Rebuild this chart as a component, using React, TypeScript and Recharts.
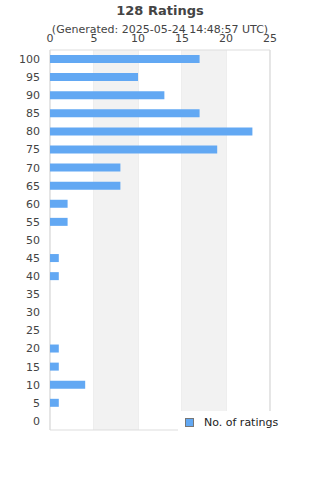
import React from "react";
import { BarChart, Bar, XAxis, YAxis, CartesianGrid, Legend, ReferenceArea } from "recharts";

// ratings buckets, top to bottom as drawn
const buckets = ["100", "95", "90", "85", "80", "75", "70", "65", "60", "55", "50", "45", "40", "35", "30", "25", "20", "15", "10", "5", "0"];
const counts = [17, 10, 13, 17, 23, 19, 8, 8, 2, 2, 0, 1, 1, 0, 0, 0, 1, 1, 4, 1, 0];
const xTicks = [0, 5, 10, 15, 20, 25];

const dados = buckets.map((b, i) => ({ bucket: b, ratings: counts[i] }));

const FONT = "'DejaVu Sans', sans-serif";
const TXT = "#444";

function LegendBox() {
  return (
    <div style={{ background: "#fff", width: 142, height: 22, display: "flex", alignItems: "center", fontFamily: FONT, fontSize: 11, color: "#222" }}>
      <span style={{ display: "inline-block", width: 7, height: 7, background: "#62a8f3", border: "1px solid #777", marginLeft: 7, marginRight: 10 }} />
      No. of ratings
    </div>
  );
}

export default function App() {
  return (
    <div style={{ position: "absolute", left: 0, top: 0, width: 320, height: 480, background: "#fff", fontFamily: FONT }}>
      <div style={{ position: "absolute", top: 3, width: 320, textAlign: "center", fontWeight: "bold", fontSize: 13, color: TXT }}>
        128 Ratings
      </div>
      <div style={{ position: "absolute", top: 23, width: 320, textAlign: "center", fontSize: 11, color: TXT }}>
        (Generated: 2025-05-24 14:48:57 UTC)
      </div>
      <BarChart
        width={320}
        height={480}
        layout="vertical"
        data={dados}
        margin={{ top: 20, right: 50, left: 0, bottom: 28 }}
        barCategoryGap={0}
      >
        <ReferenceArea x1={5} x2={10} fill="#f2f2f2" fillOpacity={1} stroke="none" ifOverflow="visible" />
        <ReferenceArea x1={15} x2={20} fill="#f2f2f2" fillOpacity={1} stroke="none" ifOverflow="visible" />
        <CartesianGrid horizontal={false} stroke="#dddddd" />
        <ReferenceArea x1={0} x2={25} fill="none" fillOpacity={0} stroke="#dddddd" ifOverflow="visible" />
        <XAxis
          type="number"
          orientation="top"
          domain={[0, 25]}
          ticks={xTicks}
          height={30}
          axisLine={false}
          tickLine={false}
          tick={{ fill: TXT, fontSize: 11, fontFamily: FONT }}
          tickMargin={2}
        />
        <YAxis
          type="category"
          dataKey="bucket"
          width={50}
          interval={0}
          axisLine={false}
          tickLine={false}
          tick={{ fill: TXT, fontSize: 11, fontFamily: FONT }}
          tickMargin={4}
        />
        <Legend
          content={() => <LegendBox />}
          wrapperStyle={{ position: "absolute", left: 178, top: 411, width: 142, height: 22 }}
        />
        <Bar dataKey="ratings" name="No. of ratings" fill="#62a8f3" barSize={8} isAnimationActive={false} />
      </BarChart>
    </div>
  );
}
